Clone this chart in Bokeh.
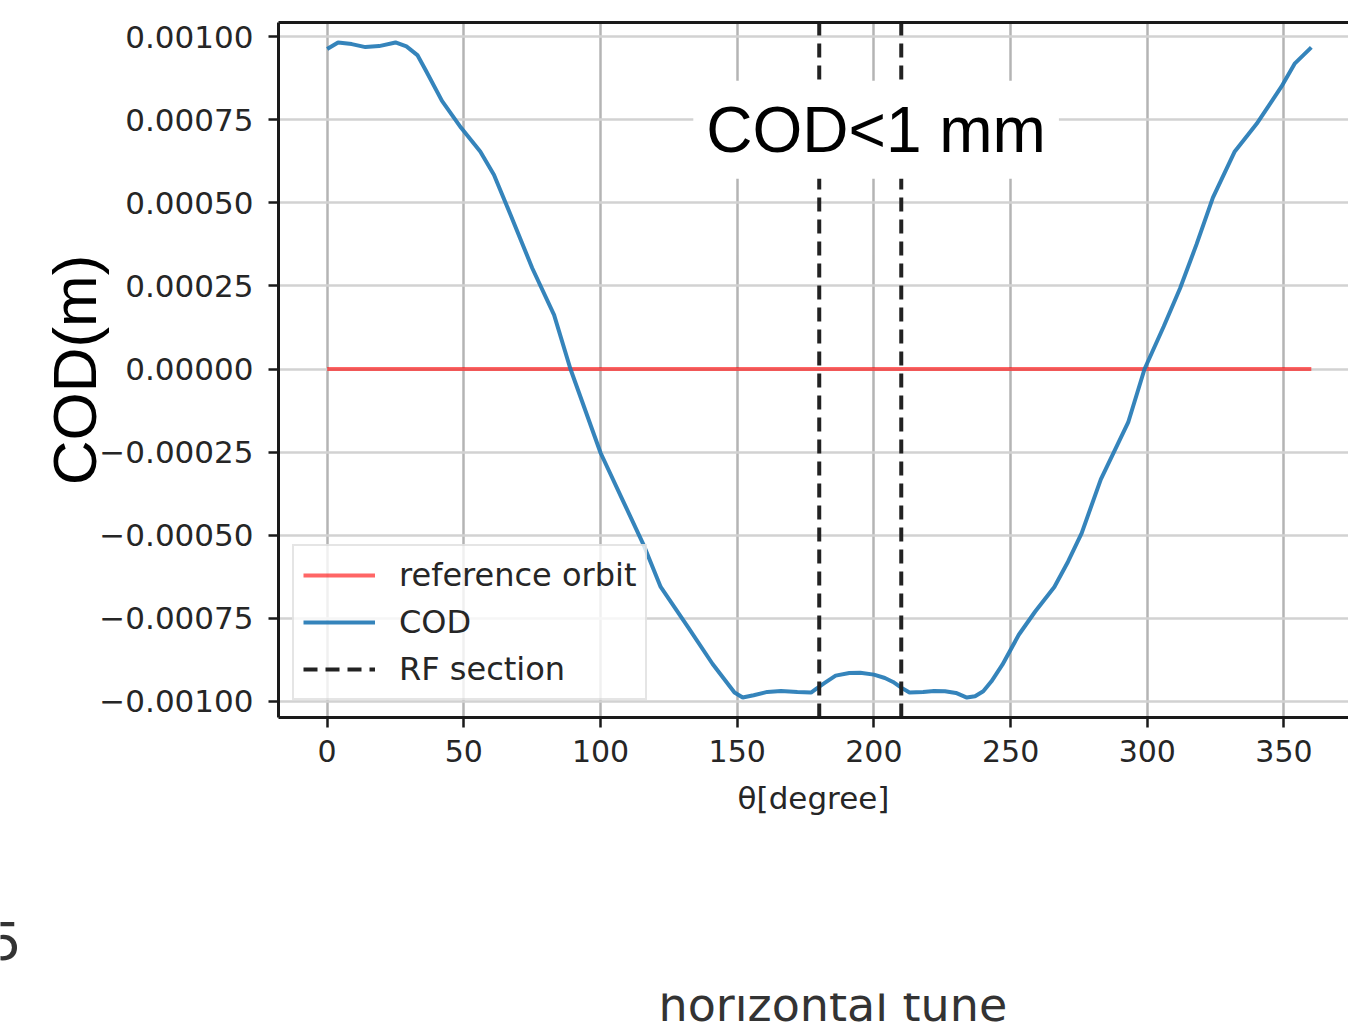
from bokeh.plotting import figure
from bokeh.layouts import column
from bokeh.models import (Range1d, FixedTicker, LinearAxis, Label, Legend,
                          LegendItem, CustomJSTickFormatter)
from bokeh.embed import file_html
from bokeh.resources import INLINE

# ---------------- data ----------------
theta_deg = [0, 4, 9, 14, 19, 25, 29, 33, 36, 42, 49, 56, 61, 67, 75, 83, 89,
             100, 108, 116, 122, 132, 141, 149, 152, 156, 161, 166, 172, 177,
             179, 182, 186, 191, 195, 200, 204, 207, 210, 213, 218, 222, 226,
             230, 234, 237, 240, 243, 247, 253, 259, 266, 271, 276, 283, 293,
             299, 306, 312, 318, 324, 332, 340, 349, 354, 360]
cod_m = [0.000963, 0.000983, 0.000978, 0.000969, 0.000972, 0.000983, 0.000971,
         0.000945, 0.000900, 0.000807, 0.000726, 0.000655, 0.000585, 0.000466,
         0.000304, 0.000163, 0.0,
         -0.000252, -0.000393, -0.000534, -0.000656, -0.000777, -0.000888,
         -0.000974, -0.000989, -0.000982, -0.000972, -0.000969, -0.000972,
         -0.000974, -0.000962, -0.000945, -0.000923, -0.000915, -0.000914,
         -0.000920, -0.000930, -0.000942, -0.000959, -0.000974, -0.000972,
         -0.000969, -0.000970, -0.000975, -0.000989, -0.000985, -0.000970,
         -0.000940, -0.000890, -0.000800, -0.000730, -0.000656, -0.000580,
         -0.000494, -0.000332, -0.000161,
         0.0, 0.000128, 0.000243, 0.000375, 0.000516, 0.000655, 0.000738,
         0.000849, 0.000920, 0.000968]
ref_theta_deg = [0, 360]
ref_orbit_m = [0.0, 0.0]
rf_section_deg = [180, 210]

x_ticks = [0, 50, 100, 150, 200, 250, 300, 350]
y_ticks = [-0.001, -0.00075, -0.0005, -0.00025, 0.0, 0.00025, 0.0005, 0.00075, 0.001]

x_lo, x_hi = -17.8, 373.6
y_lo, y_hi = -0.001049, 0.001043

legend_labels = ["reference orbit", "COD", "RF section"]
x_label = "θ[degree]"
y_label = "COD(m)"
note_text = "COD<1 mm"
fragment_texts = ["5", "horizontal tune"]   # pieces of a neighbouring figure

W = 1348
H_MAIN, H_FRAG1, H_FRAG2 = 870, 123, 35

# ---------------- main figure ----------------
p = figure(width=W, height=H_MAIN, output_backend="svg", toolbar_location=None,
           x_range=Range1d(x_lo, x_hi), y_range=Range1d(y_lo, y_hi),
           min_border_left=278, min_border_right=0, min_border_top=22,
           min_border_bottom=153, outline_line_color=None, frame_align=False,
           background_fill_color="white", border_fill_color="white")

tick_font = "DejaVu Sans"
ink = "#262626"
spine = "#1a1a1a"

xa = p.xaxis[0]
ya = p.yaxis[0]
xa.ticker = FixedTicker(ticks=x_ticks)
ya.ticker = FixedTicker(ticks=y_ticks)
ya.formatter = CustomJSTickFormatter(code="return tick.toFixed(5).replace('-', '\u2212');")

for ax in (xa, ya):
    ax.axis_line_width = 3
    ax.axis_line_color = spine
    ax.major_tick_line_width = 2.5
    ax.major_tick_line_color = spine
    ax.major_tick_out = 10
    ax.major_tick_in = 0
    ax.minor_tick_out = 0
    ax.minor_tick_in = 0
    ax.major_label_text_font = tick_font
    ax.major_label_text_color = ink

xa.major_label_text_font_size = "30px"
ya.major_label_text_font_size = "31px"
ya.major_label_standoff = 15
ya.axis_label = y_label
ya.axis_label_text_font = "Liberation Sans"
ya.axis_label_text_font_size = "62px"
ya.axis_label_text_font_style = "normal"
ya.axis_label_text_color = "black"
ya.axis_label_standoff = -13

xa.major_label_standoff = 12
xa.axis_label = x_label
xa.axis_label_text_font = tick_font
xa.axis_label_text_font_size = "31px"
xa.axis_label_text_font_style = "normal"
xa.axis_label_text_color = ink
xa.axis_label_standoff = 15

top = LinearAxis(ticker=FixedTicker(ticks=[]), major_label_text_font_size="0px",
                 major_tick_out=0, major_tick_in=0, minor_tick_out=0, minor_tick_in=0,
                 major_label_standoff=0, axis_line_width=3, axis_line_color=spine)
p.add_layout(top, "above")

p.xgrid.grid_line_color = "#b4b4b4"
p.xgrid.grid_line_width = 2.5
p.ygrid.grid_line_color = "#d2d2d2"
p.ygrid.grid_line_width = 2.5

# ---------------- glyphs ----------------
r_ref = p.line(ref_theta_deg, ref_orbit_m, line_color="red", line_alpha=0.6, line_width=4)
r_cod = p.line(theta_deg, cod_m, line_color="#1f77b4", line_alpha=0.9, line_width=4)
r_rf = p.segment(x0=rf_section_deg, y0=[y_lo] * len(rf_section_deg),
                 x1=rf_section_deg, y1=[y_hi] * len(rf_section_deg),
                 line_color="#222222", line_width=4, line_dash="14 8")

legend = Legend(items=[LegendItem(label=legend_labels[0], renderers=[r_ref]),
                       LegendItem(label=legend_labels[1], renderers=[r_cod]),
                       LegendItem(label=legend_labels[2], renderers=[r_rf])],
                location=(14, 17), label_text_font=tick_font,
                label_text_font_size="32px", label_text_color=ink,
                glyph_width=72, glyph_height=40, label_height=40, spacing=7,
                label_standoff=24, padding=9, margin=0,
                border_line_color="#cccccc", border_line_width=2,
                background_fill_color="white", background_fill_alpha=0.8)
p.add_layout(legend)

p.add_layout(Label(x=200.8, y=0.00072, text=note_text, text_align="center",
                   text_baseline="alphabetic", text_font="Liberation Sans",
                   text_font_size="64px", text_color="black",
                   background_fill_color="white", padding=13))


# ---------------- fragments of the neighbouring figure ----------------
def strip(height, top_px):
    f = figure(width=W, height=height, output_backend="svg", toolbar_location=None,
               x_range=Range1d(0, W), y_range=Range1d(top_px + height, top_px),
               x_axis_location=None, y_axis_location=None, min_border=0,
               outline_line_color=None, frame_align=False,
               background_fill_color="white", border_fill_color="white")
    for g in f.grid:
        g.visible = False
    return f


f1 = strip(H_FRAG1, H_MAIN)
f1.add_layout(Label(x=21, y=940, text=fragment_texts[0], text_align="right",
                    text_baseline="alphabetic", text_font="DejaVu Sans",
                    text_font_size="52px", text_color="#333333"))

f2 = strip(H_FRAG2, H_MAIN + H_FRAG1)
f2.add_layout(Label(x=658, y=1004, text=fragment_texts[1], text_align="left",
                    text_baseline="alphabetic", text_font="DejaVu Sans",
                    text_font_size="46px", text_color="#333333"))

page = column(p, f1, f2, spacing=0)

open("out.html", "w").write(file_html(page, INLINE))
